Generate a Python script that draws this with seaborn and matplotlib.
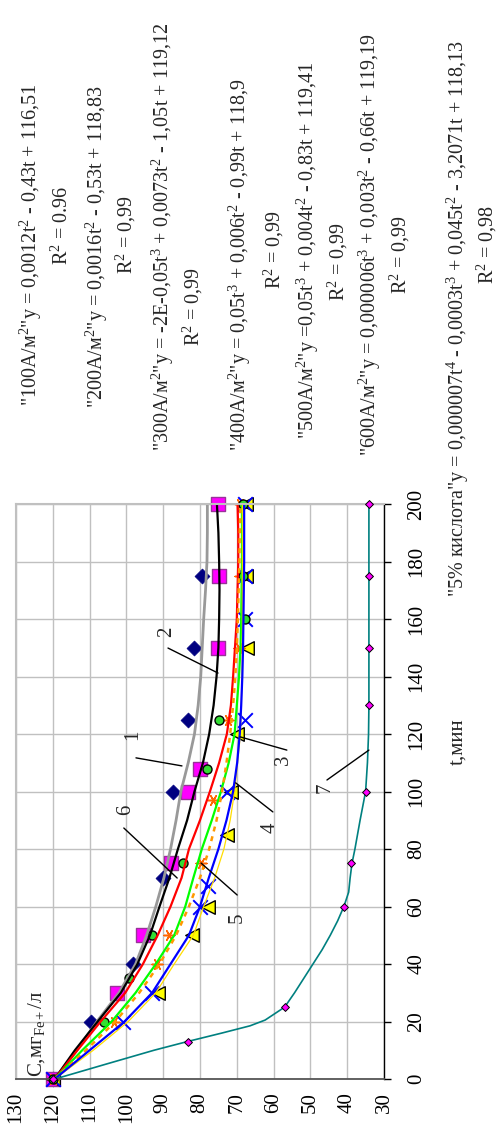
import matplotlib
matplotlib.use("Agg")
import matplotlib.pyplot as plt
import seaborn as sns

# ---------------- data ----------------
t_axis_ticks = [0, 20, 40, 60, 80, 100, 120, 140, 160, 180, 200]
c_axis_ticks = [130, 120, 110, 100, 90, 80, 70, 60, 50, 40, 30]

# trend curves: time (min) and concentration (mg/l)
curve_t = [0, 10, 20, 30, 40, 50, 60, 70, 80, 90, 100, 110, 120, 130, 140, 150, 160, 170, 180, 190, 200]
gray_c   = [119.5, 113.5, 108.0, 102.0, 97.5, 94.5, 92.0, 89.8, 88.0, 86.5, 85.2, 83.2, 81.5, 80.5, 79.8, 79.4, 79.0, 78.5, 78.1, 78.0, 78.0]
black_c  = [119.5, 114.0, 107.8, 101.5, 97.0, 93.6, 91.0, 88.3, 86.0, 83.5, 81.5, 79.2, 77.5, 76.3, 75.5, 75.0, 74.8, 74.7, 74.8, 75.0, 75.4]
red_c    = [119.5, 113.3, 107.0, 100.3, 95.5, 91.5, 88.0, 85.0, 83.0, 80.0, 77.3, 74.8, 72.7, 71.6, 71.0, 70.5, 70.0, 69.8, 69.6, 69.6, 69.8]
green_c  = [119.5, 112.0, 104.0, 97.5, 92.0, 87.0, 84.0, 81.8, 79.5, 76.8, 74.3, 72.2, 70.6, 70.0, 69.4, 69.0, 68.8, 68.7, 68.6, 68.6, 68.6]
blue_c   = [119.5, 110.0, 100.5, 93.0, 88.0, 83.0, 80.0, 77.6, 75.0, 72.8, 71.0, 69.9, 69.2, 68.8, 68.5, 68.3, 68.2, 68.1, 68.0, 68.0, 68.0]
yellow_c = [119.5, 109.0, 99.5, 92.0, 87.0, 81.8, 79.0, 76.0, 73.5, 71.8, 70.6, 69.8, 69.0, 68.8, 68.6, 68.5, 68.5, 68.5, 68.5, 68.5, 68.5]
orange_c = [119.5, 111.0, 103.0, 96.5, 91.0, 86.5, 83.0, 80.0, 77.5, 75.5, 74.0, 72.8, 71.8, 71.0, 70.4, 70.0, 69.7, 69.5, 69.3, 69.2, 69.0]

# 5% acid curve
acid_line_t = [0, 5, 10, 13, 16, 18.5, 20.5, 25, 30, 35, 40, 45, 50, 55, 60, 65, 70, 75, 80, 90, 100, 110, 120, 130, 150, 175, 200]
acid_line_c = [119.4, 106.0, 92.5, 83.5, 74.0, 66.4, 62.3, 57.0, 54.3, 51.8, 49.3, 46.8, 44.6, 42.6, 40.9, 39.6, 39.2, 38.7, 37.9, 36.5, 35.0, 34.5, 34.2, 34.1, 34.1, 34.1, 34.1]
acid_pts_t = [0, 13, 25, 60, 75, 100, 130, 150, 175, 200]
acid_pts_c = [120, 83.2, 57.0, 40.9, 38.9, 35.0, 34.1, 34.1, 34.1, 34.1]

# measured points of each current density
diam_t = [0, 20, 40, 70, 100, 125, 150, 175]
diam_c = [120, 109.5, 98.2, 90.0, 87.4, 83.2, 81.6, 79.5]
sq_t = [0, 30, 50, 75, 100, 108, 150, 175, 200]
sq_c = [120, 102.6, 95.4, 88.0, 83.2, 80.0, 75.1, 74.9, 75.1]
tri_t = [0, 30, 50, 60, 85, 100, 120, 150, 175, 200]
tri_c = [120, 91.3, 82.2, 77.8, 72.7, 71.5, 70.0, 67.2, 67.5, 67.5]
x_t = [0, 20, 30, 60, 67, 100, 125, 160, 175, 200]
x_c = [120, 101.0, 93.0, 80.0, 77.8, 72.7, 67.8, 67.8, 67.8, 67.8]
ast_t = [0, 20, 40, 50, 75, 97, 125, 150, 175, 200]
ast_c = [120, 103.5, 91.7, 88.4, 79.7, 76.5, 72.4, 69.4, 69.0, 69.0]
circ_t = [0, 20, 35, 50, 75, 108, 125, 160, 175, 200]
circ_c = [120, 106.0, 99.3, 93.0, 84.6, 78.0, 74.8, 67.8, 68.3, 68.3]

# curve number labels: (text, text C, text t, line from C,t, line to C,t)
num_labels = ["1", "2", "6", "5", "4", "3", "7"]
num_text_c = [98.2, 89.0, 100.1, 69.9, 61.0, 57.4, 46.0]
num_text_t = [119.7, 155.5, 93.6, 56.0, 87.3, 111.0, 101.2]
lead_c0 = [97.4, 88.7, 100.7, 69.9, 60.2, 56.4, 45.5]
lead_t0 = [111.7, 149.9, 87.3, 64.0, 92.9, 114.4, 104.0]
lead_c1 = [84.9, 75.1, 86.2, 79.7, 70.3, 69.1, 34.1]
lead_t1 = [108.9, 141.2, 69.9, 75.1, 103.0, 119.0, 114.4]

eq_texts = [
    '"100A/м$^{2}$"y = 0,0012t$^{2}$ - 0,43t + 116,51', 'R$^{2}$ = 0.96',
    '"200A/м$^{2}$"y = 0,0016t$^{2}$ - 0,53t + 118,83', 'R$^{2}$ = 0,99',
    '"300A/м$^{2}$"y = -2E-0,05t$^{3}$ + 0,0073t$^{2}$ - 1,05t + 119,12', 'R$^{2}$ = 0,99',
    '"400A/м$^{2}$"y = 0,05t$^{3}$ + 0,006t$^{2}$ - 0,99t + 118,9', 'R$^{2}$ = 0,99',
    '"500A/м$^{2}$"y =0,05t$^{3}$ + 0,004t$^{2}$ - 0,83t + 119,41', 'R$^{2}$ = 0,99',
    '"600A/м$^{2}$"y = 0,000006t$^{3}$ + 0,003t$^{2}$ - 0,66t + 119,19', 'R$^{2}$ = 0,99',
]
eq_x_px = [31, 62, 97, 126, 163, 193, 240, 274, 308, 338, 370, 400]
eq_y_px = [245, 225, 247, 235, 237, 307, 265, 250, 250, 262, 245, 255]
acid_eq = '"5% кислота"y = 0,000007t$^{4}$ - 0,0003t$^{3}$ + 0,045t$^{2}$ - 3,2071t + 118,13'
acid_r2 = 'R$^{2}$ = 0,98'

# ---------------- style ----------------
sns.set_theme(style="white")
plt.rcParams["font.family"] = ["Liberation Serif", "DejaVu Serif"]
plt.rcParams["mathtext.fontset"] = "custom"
plt.rcParams["mathtext.rm"] = "Liberation Serif"
plt.rcParams["mathtext.it"] = "Liberation Serif:italic"
plt.rcParams["mathtext.bf"] = "Liberation Serif:bold"
plt.rcParams["mathtext.default"] = "rm"

W, H = 501, 1127
FS = 15
FS_EQ = 14.5
fig = plt.figure(figsize=(W / 100, H / 100), dpi=100)
fig.patch.set_facecolor("white")
ax = fig.add_axes([16 / W, 1 - 1079 / H, (384 - 16) / W, (1079 - 504) / H])
ax.set_facecolor("white")

# markers (below the trend lines)
def pts(c, t, **kw):
    sns.scatterplot(x=c, y=t, ax=ax, legend=False, zorder=3, clip_on=False, **kw)

pts(diam_c, diam_t, marker="D", s=58, color="#000080", edgecolor="#000080", linewidth=0.5)
pts(sq_c, sq_t, marker="s", s=100, color="#FF00FF", edgecolor="#993399", linewidth=1.0)
pts(tri_c, tri_t, marker="<", s=95, color="#FFFF00", edgecolor="black", linewidth=1.0)
pts(x_c, x_t, marker="x", s=110, color="#0000FF", linewidth=1.4)
pts(ast_c, ast_t, marker=(6, 2, 90), s=60, color="#FF6600", linewidth=1.1)
pts(circ_c, circ_t, marker="o", s=42, color="#33DD33", edgecolor="black", linewidth=1.0)

def curve(c, t, **kw):
    sns.lineplot(x=c, y=t, ax=ax, orient="y", sort=False, estimator=None, legend=False, zorder=4, **kw)

curve(gray_c, curve_t, color="#999999", linewidth=2.0)
curve(black_c, curve_t, color="black", linewidth=1.6)
curve(red_c, curve_t, color="#FF0000", linewidth=1.6)
curve(green_c, curve_t, color="#00FF00", linewidth=1.6)
curve(orange_c, curve_t, color="#FF9900", linewidth=1.8, linestyle=(0, (2, 2)))
curve(yellow_c, curve_t, color="#FFDD00", linewidth=0.9)
curve(blue_c, curve_t, color="#0000FF", linewidth=1.6)
curve(acid_line_c, acid_line_t, color="#008080", linewidth=1.2)
sns.scatterplot(x=acid_pts_c, y=acid_pts_t, ax=ax, marker="D", s=16, color="#FF00FF",
                edgecolor="black", linewidth=0.7, legend=False, zorder=6, clip_on=False)

# axes
ax.set_xlim(130, 30)
ax.set_ylim(0, 200)
ax.set_xticks(c_axis_ticks)
ax.set_yticks(t_axis_ticks)
ax.set_xticklabels([str(v) for v in c_axis_ticks], rotation=90, fontsize=FS)
ax.set_yticklabels([str(v) for v in t_axis_ticks], rotation=90, fontsize=FS, va="center")
ax.yaxis.tick_right()
ax.tick_params(axis="x", direction="out", length=4.3, width=1.0, color="#555555", pad=5, labelcolor="black")
ax.tick_params(axis="y", direction="out", length=5, width=1.0, color="black", pad=12, labelcolor="black",
               left=False, right=True)
ax.set_xlabel("")
ax.set_ylabel("")
ax.grid(True, color="#C0C0C0", linewidth=1.0)
ax.set_axisbelow(True)
for side in ["left", "top"]:
    ax.spines[side].set_color("#C0C0C0")
    ax.spines[side].set_linewidth(1.5)
ax.spines["bottom"].set_color("#555555")
ax.spines["bottom"].set_linewidth(1.3)
ax.spines["right"].set_color("black")
ax.spines["right"].set_linewidth(1.0)
for s in ax.spines.values():
    s.set_visible(True)
    s.set_zorder(5)

# axis titles
ax.text(124.3, 0.7, "C,мг$_{\\mathrm{Fe+}}$/л", rotation=90, ha="center", va="bottom", fontsize=FS, zorder=7)
fig.text(458 / W, 1 - 742 / H, "t,мин", rotation=90, ha="center", va="center", fontsize=FS)

# curve numbers with leader lines
for lab, tc, tt, c0, t0, c1, t1 in zip(num_labels, num_text_c, num_text_t, lead_c0, lead_t0, lead_c1, lead_t1):
    ax.plot([c0, c1], [t0, t1], color="black", linewidth=1.0, zorder=7)
    ax.text(tc, tt, lab, rotation=90, ha="center", va="center", fontsize=FS, zorder=7)

# trendline equations
for txt, xp, yp in zip(eq_texts, eq_x_px, eq_y_px):
    fig.text(xp / W, 1 - yp / H, txt, rotation=90, ha="center", va="center", fontsize=FS_EQ)
fig.text(458 / W, 1 - 597 / H, acid_eq, rotation=90, ha="center", va="bottom", fontsize=FS_EQ)
fig.text(487 / W, 1 - 245 / H, acid_r2, rotation=90, ha="center", va="center", fontsize=FS_EQ)

fig.savefig("out.png", dpi=100, facecolor="white")
